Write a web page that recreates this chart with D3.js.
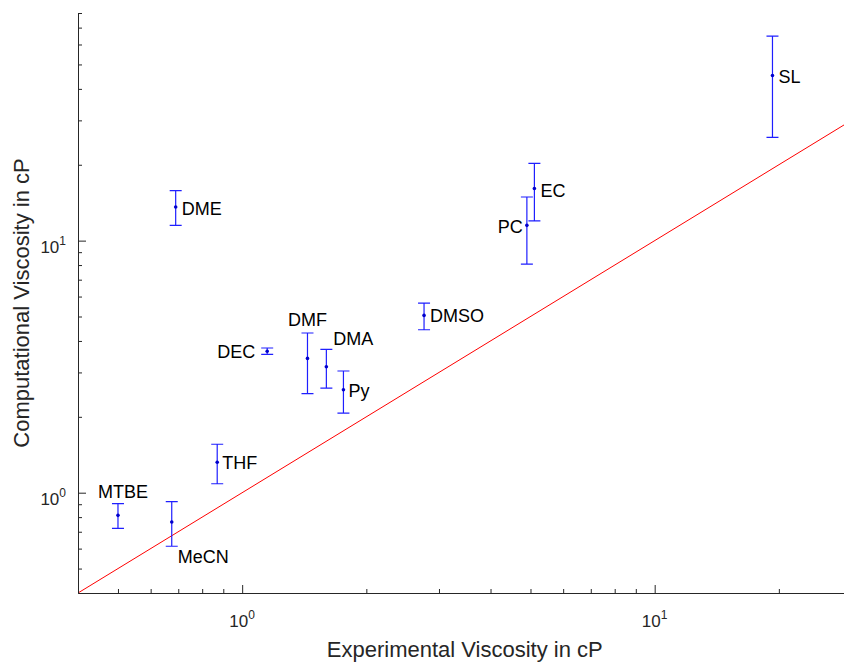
<!DOCTYPE html>
<html>
<head>
<meta charset="utf-8">
<script src="https://cdn.jsdelivr.net/npm/d3@7"></script>
<style>
  body { margin: 0; background: #fff; }
  svg { display: block; font-family: "Liberation Sans", Arial, sans-serif; }
</style>
</head>
<body>
<div id="chart"></div>
<script>
// solvent data
const solvents = ["MTBE", "DME", "MeCN", "THF", "DEC", "DMF", "DMA", "Py", "DMSO", "PC", "EC", "SL"];
const expVisc  = [0.50, 0.69, 0.675, 0.87, 1.15, 1.44, 1.60, 1.76, 2.76, 4.90, 5.11, 19.3];
const compVisc = [0.813, 13.6, 0.765, 1.32, 3.64, 3.41, 3.16, 2.56, 5.05, 11.5, 16.1, 45.2];
const compLow  = [0.722, 11.5, 0.613, 1.085, 3.54, 2.47, 2.60, 2.07, 4.43, 8.07, 11.97, 25.7];
const compHigh = [0.905, 15.8, 0.921, 1.557, 3.75, 4.30, 3.70, 3.04, 5.65, 14.9, 20.25, 64.8];

// parity line y = x
const parity = [0.4, 30];

const xMajor = [1, 10];
const yMajor = [1, 10];
const xMinor = [0.5, 0.6, 0.7, 0.8, 0.9, 2, 3, 4, 5, 6, 7, 8, 9, 20];
const yMinor = [0.5, 0.6, 0.7, 0.8, 0.9, 2, 3, 4, 5, 6, 7, 8, 9, 20, 30, 40, 50, 60, 70, 80];

// label placement: [dx, dy, anchor]
const labelPos = {
    MTBE: [-20, -17, "start"],
    DME: [6, 8, "start"],
    MeCN: [6, 41, "start"],
    THF: [5, 7, "start"],
    DEC: [-12, 7, "end"],
    DMF: [0, -32, "middle"],
    DMA: [7, -22, "start"],
    Py: [5, 7, "start"],
    DMSO: [6, 7, "start"],
    PC: [-4, 8, "end"],
    EC: [6, 8, "start"],
    SL: [6, 8, "start"]
};

const W = 844, H = 662;
const mLeft = 78, mRight = 851.5, mTop = 13, mBottom = 593;
const axisColor = "#262626";

const svg = d3.select("#chart").append("svg")
    .attr("width", W)
    .attr("height", H);

const x = d3.scaleLog().domain([0.4, 30]).range([mLeft, mRight]);
const y = d3.scaleLog().domain([0.4, 80]).range([mBottom, mTop]);

// parity line
svg.append("line")
    .attr("x1", x(parity[0])).attr("y1", y(parity[0]))
    .attr("x2", x(parity[1])).attr("y2", y(parity[1]))
    .attr("stroke", "#ff0000")
    .attr("stroke-width", 1);

// axes: minor then major ticks, pointing inward
function styleAxis(g) {
    g.select(".domain").attr("stroke", axisColor).attr("stroke-width", 1);
    g.selectAll(".tick line").attr("stroke", axisColor).attr("stroke-width", 1);
}

svg.append("g")
    .attr("transform", `translate(0,${mBottom})`)
    .call(d3.axisBottom(x).tickValues(xMinor).tickSize(-4).tickSizeOuter(0).tickFormat(""))
    .call(styleAxis);

svg.append("g")
    .attr("transform", `translate(0,${mBottom})`)
    .call(d3.axisBottom(x).tickValues(xMajor).tickSize(-8).tickSizeOuter(0).tickFormat(""))
    .call(styleAxis);

svg.append("g")
    .attr("transform", `translate(${mLeft},0)`)
    .call(d3.axisLeft(y).tickValues(yMinor).tickSize(-4).tickSizeOuter(0).tickFormat(""))
    .call(styleAxis);

svg.append("g")
    .attr("transform", `translate(${mLeft},0)`)
    .call(d3.axisLeft(y).tickValues(yMajor).tickSize(-8).tickSizeOuter(0).tickFormat(""))
    .call(styleAxis);

// power-of-ten tick labels
function powLabel(sel, v) {
    const e = Math.round(Math.log10(v));
    sel.append("tspan").attr("font-size", 17).text("10");
    sel.append("tspan").attr("font-size", 12).attr("dy", -8).text(e);
}

xMajor.forEach(v => {
    svg.append("text")
        .attr("x", x(v))
        .attr("y", mBottom + 34)
        .attr("text-anchor", "middle")
        .attr("fill", axisColor)
        .call(powLabel, v);
});

yMajor.forEach(v => {
    svg.append("text")
        .attr("x", mLeft - 12)
        .attr("y", y(v) + 12)
        .attr("text-anchor", "end")
        .attr("fill", axisColor)
        .call(powLabel, v);
});

// axis titles
svg.append("text")
    .attr("x", (mLeft + mRight) / 2)
    .attr("y", 657)
    .attr("text-anchor", "middle")
    .attr("font-size", 22)
    .attr("fill", axisColor)
    .text("Experimental Viscosity in cP");

svg.append("text")
    .attr("transform", `translate(29,${(mTop + mBottom) / 2}) rotate(-90)`)
    .attr("text-anchor", "middle")
    .attr("font-size", 22)
    .attr("fill", axisColor)
    .text("Computational Viscosity in cP");

// error bars
const pts = solvents.map((name, i) => ({
    name: name, ex: expVisc[i], cv: compVisc[i], lo: compLow[i], hi: compHigh[i]
}));

const bars = svg.append("g").attr("stroke", "#1f1fff").attr("stroke-width", 1.2);
const cap = 6;

bars.selectAll(".bar")
    .data(pts)
    .enter().append("path")
    .attr("class", "bar")
    .attr("fill", "none")
    .attr("d", d => {
        const px = x(d.ex), yl = y(d.lo), yh = y(d.hi);
        return `M${px},${yh}V${yl}M${px - cap},${yh}H${px + cap}M${px - cap},${yl}H${px + cap}`;
    });

svg.append("g").selectAll("circle")
    .data(pts)
    .enter().append("circle")
    .attr("cx", d => x(d.ex))
    .attr("cy", d => y(d.cv))
    .attr("r", 1.8)
    .attr("fill", "#0000cc");

svg.append("g").selectAll("text")
    .data(pts)
    .enter().append("text")
    .attr("x", d => x(d.ex) + labelPos[d.name][0])
    .attr("y", d => y(d.cv) + labelPos[d.name][1])
    .attr("text-anchor", d => labelPos[d.name][2])
    .attr("font-size", 18)
    .attr("fill", "#000")
    .text(d => d.name);
</script>
</body>
</html>
